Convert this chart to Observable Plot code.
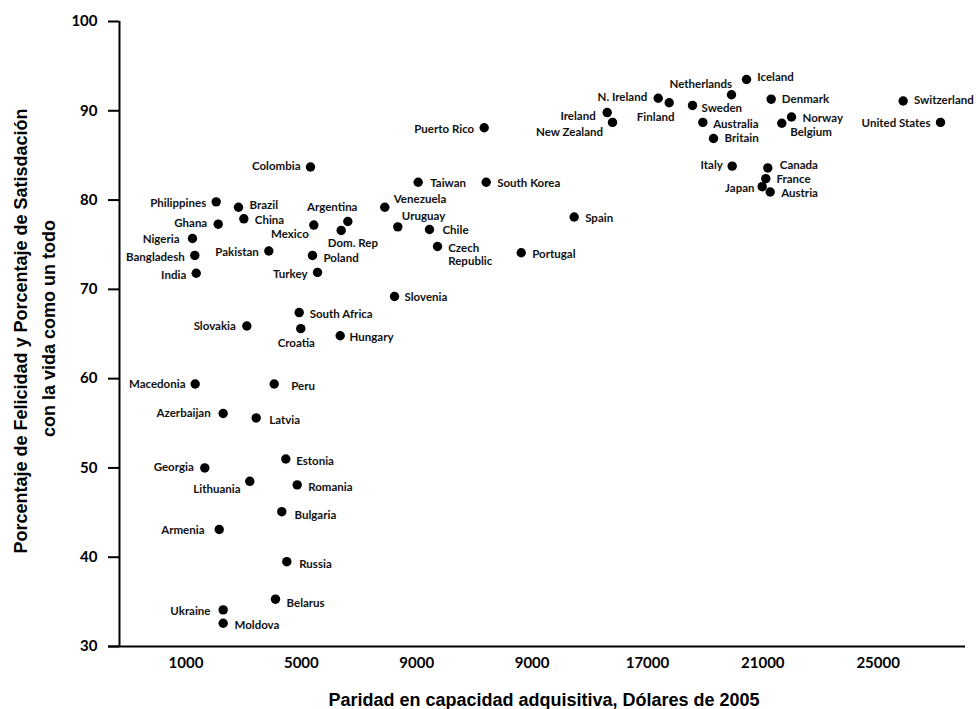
<!DOCTYPE html>
<html>
<head>
<meta charset="utf-8">
<script src="https://cdn.jsdelivr.net/npm/d3@7"></script>
<script src="https://cdn.jsdelivr.net/npm/@observablehq/plot@0.6"></script>
<style>
  body { margin: 0; background: #fff; }
  #chart svg { display: block; }
</style>
</head>
<body>
<div id="chart"></div>
<script>
// ---- Data ----
const countries = [
  "Colombia","Philippines","Brazil","China","Ghana","Nigeria","Bangladesh","India","Pakistan","Mexico",
  "Poland","Turkey","South Africa","Slovakia","Croatia","Taiwan","South Korea","Venezuela","Argentina","Dom. Rep",
  "Uruguay","Chile","Czech Republic","Slovenia","Hungary","Portugal","Puerto Rico","Spain","Ireland","New Zealand",
  "N. Ireland","Finland","Sweden","Netherlands","Iceland","Australia","Britain","Denmark","Norway","Belgium",
  "Switzerland","United States","Italy","Canada","France","Japan","Austria","Macedonia","Peru","Azerbaijan",
  "Latvia","Estonia","Georgia","Lithuania","Romania","Bulgaria","Armenia","Russia","Belarus","Ukraine","Moldova"
];
const ppp = [
  5317, 2047, 2820, 3005, 2117, 1225, 1305, 1354, 3871, 5432,
  5386, 5560, 4925, 3109, 4980, 9050, 11409, 7893, 6611, 6381,
  8344, 9443, 9721, 8230, 6347, 12623, 11339, 14459, 15604, 15788,
  17373, 17754, 18563, 19914, 20435, 18920, 19291, 21290, 21995, 21659,
  25867, 27162, 19939, 21173, 21104, 20979, 21256, 1318, 4058, 2289,
  3434, 4461, 1651, 3212, 4855, 4321, 2151, 4495, 4103, 2289, 2289
];
const happiness = [
  83.7, 79.8, 79.2, 77.9, 77.3, 75.7, 73.8, 71.8, 74.3, 77.2,
  73.8, 71.9, 67.4, 65.9, 65.6, 82.0, 82.0, 79.2, 77.6, 76.6,
  77.0, 76.7, 74.8, 69.2, 64.8, 74.1, 88.1, 78.1, 89.8, 88.7,
  91.4, 90.9, 90.6, 91.8, 93.5, 88.7, 86.9, 91.3, 89.3, 88.6,
  91.1, 88.7, 83.8, 83.6, 82.4, 81.5, 80.9, 59.4, 59.4, 56.1,
  55.6, 51.0, 50.0, 48.5, 48.1, 45.1, 43.1, 39.5, 35.3, 34.1, 32.6
];
const xTicks = [1000, 5000, 9000, 13000, 17000, 21000, 25000];
const xTickLabels = ["1000", "5000", "9000", "9000", "17000", "21000", "25000"];
const yTicks = [30, 40, 50, 60, 70, 80, 90, 100];
const xTitle = "Paridad en capacidad adquisitiva, Dólares de 2005";
const yTitleLines = ["Porcentaje de Felicidad y Porcentaje de Satisdación", "con la vida como un todo"];

// ---- Label placement (styling: anchor, dx, dy in px) ----
const R = ["start", 10, 1], L = ["end", -10, 1];
const labelLayout = {
  "Colombia": ["end", -10, -1], "Philippines": L, "Brazil": ["start", 11, -2], "China": ["start", 11, 1],
  "Ghana": ["end", -11, -1.5], "Nigeria": ["end", -13, 0], "Bangladesh": L, "India": L, "Pakistan": L,
  "Mexico": ["end", -5, 8.5], "Poland": ["start", 11, 2.5], "Turkey": L, "South Africa": ["start", 10.5, 1],
  "Slovakia": ["end", -11, 0], "Croatia": ["middle", -4.5, 13.7], "Taiwan": ["start", 12, 1],
  "South Korea": ["start", 11, 1], "Venezuela": ["start", 9, -8.3], "Argentina": ["middle", -15.6, -15],
  "Dom. Rep": ["start", -13.4, 12.4], "Uruguay": ["start", 4, -11.3], "Chile": ["start", 13, 0],
  "Czech Republic": ["start", 10.7, 7.7], "Slovenia": ["start", 10, 0], "Hungary": ["start", 9.3, 1],
  "Portugal": ["start", 11, 1], "Puerto Rico": L, "Spain": ["start", 11, 1], "Ireland": ["end", -11.5, 3],
  "New Zealand": ["end", -9.5, 9], "N. Ireland": ["end", -11, -1.5], "Finland": ["end", 5.3, 13.7],
  "Sweden": ["start", 9, 2], "Netherlands": ["end", 0.7, -11.3], "Iceland": ["start", 10.7, -2.6],
  "Australia": ["start", 10.4, 1], "Britain": ["start", 11, -1], "Denmark": ["start", 10.7, -0.6],
  "Norway": ["start", 11, 0.3], "Belgium": ["start", 8.4, 8], "Switzerland": ["start", 10.7, -1],
  "United States": ["end", -10, 0], "Italy": ["end", -9.4, -1.3], "Canada": ["start", 12, -2.7],
  "France": ["start", 10.7, -0.3], "Japan": ["end", -7.7, 0.7], "Austria": ["start", 11, 0.7],
  "Macedonia": ["end", -9.7, -0.4], "Peru": ["start", 17, 1.7], "Azerbaijan": ["end", -12.5, -0.5],
  "Latvia": ["start", 13, 1.6], "Estonia": ["start", 10.4, 1.7], "Georgia": ["end", -11, -1],
  "Lithuania": ["end", -9.3, 7], "Romania": ["start", 11, 2.3], "Bulgaria": ["start", 12.7, 3.3],
  "Armenia": ["end", -14.7, 0], "Russia": ["start", 12.4, 1.7], "Belarus": ["start", 11, 3.3],
  "Ukraine": ["end", -12.7, 1], "Moldova": ["start", 11.3, 1]
};
const displayName = {"Czech Republic": "Czech\nRepublic"};

const data = countries.map((c, i) => ({country: c, ppp: ppp[i], happiness: happiness[i]}));
const xDomain = [-1306, 28028];

const labelFont = "Lato, 'Open Sans', sans-serif";
const titleFont = "'Liberation Sans', Arial, sans-serif";

const labelMarks = data.map(d => {
  const [anchor, dx, dy] = labelLayout[d.country] || R;
  return Plot.text([d], {
    x: "ppp", y: "happiness",
    text: v => displayName[v.country] || v.country,
    textAnchor: anchor, dx, dy,
    lineAnchor: "middle", lineHeight: 1.15,
    fontSize: 11.5, fontWeight: 700, fill: "#111",
    fontFamily: labelFont
  });
});

const chart = Plot.plot({
  width: 977,
  height: 709,
  marginLeft: 119,
  marginRight: 12,
  marginTop: 21,
  marginBottom: 63,
  style: {background: "white", fontFamily: labelFont, color: "black"},
  x: {domain: xDomain},
  y: {domain: [30, 100]},
  marks: [
    Plot.axisY({ticks: yTicks, tickSize: 11, tickPadding: 11, strokeWidth: 2, fontSize: 15, fontWeight: 700, label: null, fontFamily: labelFont}),
    Plot.axisX({ticks: xTicks, tickSize: 0, tickPadding: 11, fontSize: 15, fontWeight: 700, label: null,
      tickFormat: d => xTickLabels[xTicks.indexOf(d)], fontFamily: labelFont}),
    Plot.ruleX([xDomain[0]], {y1: 30, y2: 100, strokeWidth: 2, stroke: "black"}),
    Plot.ruleY([30], {x1: xDomain[0], x2: xDomain[1], insetLeft: -11, strokeWidth: 2, stroke: "black"}),
    Plot.dot(data, {x: "ppp", y: "happiness", r: 4.7, fill: "black", stroke: "none"}),
    ...labelMarks,
    Plot.text([xTitle], {frameAnchor: "bottom", dx: 1.5, dy: 53.5, fontSize: 18, fontWeight: 700,
      fontFamily: titleFont, fill: "black", lineAnchor: "middle", textAnchor: "middle"}),
    Plot.text([yTitleLines[0]], {frameAnchor: "left", rotate: -90, dx: -98, dy: -3, fontSize: 18, fontWeight: 700,
      fontFamily: titleFont, fill: "black", lineAnchor: "middle", textAnchor: "middle"}),
    Plot.text([yTitleLines[1]], {frameAnchor: "left", rotate: -90, dx: -70.5, dy: -5.5, fontSize: 18, fontWeight: 700,
      fontFamily: titleFont, fill: "black", lineAnchor: "middle", textAnchor: "middle"})
  ]
});
document.getElementById("chart").appendChild(chart);
</script>
</body>
</html>
